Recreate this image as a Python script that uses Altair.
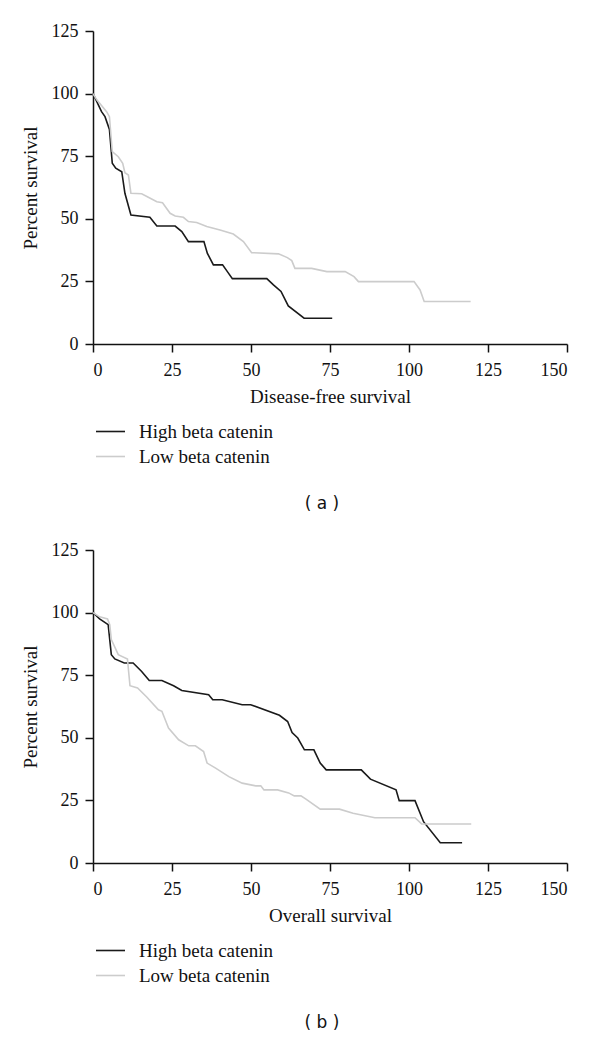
import altair as alt
import pandas as pd

GROUPS = ["High beta catenin", "Low beta catenin"]
X_TICKS = [0, 25, 50, 75, 100, 125, 150]
Y_TICKS = [0, 25, 50, 75, 100, 125]

# Panel (a): disease-free survival
a_high_t = [0, 2.7, 3.8, 5.2, 6.1, 7.2, 9.1, 10.1, 12.0, 18.0, 20.2, 26.0, 28.1, 30.2, 35.1,
            36.2, 38.1, 41.0, 42.3, 44.1, 55.0, 57.1, 59.5, 61.8, 66.8, 75.7]
a_high_s = [100, 92.8, 90.8, 85.7, 72.2, 70.2, 68.8, 60.2, 51.5, 50.6, 47.1, 47.1, 44.9, 40.9, 40.9,
            36.2, 31.6, 31.6, 29.3, 26.1, 26.1, 23.6, 21.0, 15.2, 10.3, 10.3]
a_low_t = [0, 1.2, 4.3, 5.2, 6.1, 8.0, 9.4, 10.1, 11.2, 12.0, 15.4, 17.5, 20.2, 22.0, 24.4, 26.0,
           28.6, 30.2, 32.8, 36.0, 40.2, 44.4, 47.6, 50.2, 58.7, 61.5, 62.9, 63.9, 69.2, 74.0, 79.8,
           82.6, 84.0, 101.6, 103.5, 104.8, 119.5]
a_low_s = [100, 97.5, 92.8, 90.8, 76.8, 74.8, 72.2, 68.4, 67.5, 60.2, 60.0, 58.6, 56.8, 56.4, 52.2,
           51.1, 50.6, 48.9, 48.5, 46.9, 45.5, 43.9, 40.9, 36.5, 36.0, 34.5, 33.3, 30.2, 30.2, 28.9,
           28.9, 26.9, 24.9, 24.9, 21.6, 17.0, 17.0]

# Panel (b): overall survival
b_high_t = [0, 2.1, 4.8, 5.8, 6.9, 9.9, 12.7, 15.4, 17.8, 21.8, 25.5, 28.1, 36.6, 37.9, 40.9, 47.2,
            49.9, 59.0, 61.6, 63.0, 64.8, 66.9, 69.9, 71.9, 73.8, 84.9, 87.8, 95.9, 96.9, 101.9,
            104.6, 109.9, 116.8]
b_high_s = [100, 97.5, 95.2, 83.2, 81.5, 79.9, 79.9, 76.5, 72.9, 72.9, 70.8, 68.9, 67.2, 65.2, 65.2,
            63.2, 63.2, 59.0, 56.5, 52.1, 49.9, 45.2, 45.2, 39.9, 37.2, 37.2, 33.5, 29.2, 24.9, 24.9,
            16.5, 8.1, 8.1]
b_low_t = [0, 2.1, 4.6, 5.3, 5.8, 8.0, 10.9, 11.7, 14.1, 17.0, 20.7, 21.8, 23.9, 27.1, 30.3, 32.4,
           35.0, 36.1, 38.8, 43.0, 47.2, 51.5, 53.1, 54.1, 58.4, 61.9, 63.7, 65.8, 67.4, 71.9, 78.0,
           82.3, 89.2, 101.9, 104.0, 119.7]
b_low_s = [100, 98.3, 97.5, 95.2, 89.2, 83.2, 81.5, 70.8, 69.9, 66.3, 61.2, 60.6, 53.9, 49.2, 46.8,
           46.8, 44.5, 39.9, 37.9, 34.5, 31.9, 30.8, 30.8, 29.2, 29.2, 28.0, 26.8, 26.8, 25.5, 21.5,
           21.5, 19.9, 18.1, 18.1, 15.6, 15.6]


def make_df(ht, hs, lt, ls):
    rows = []
    for i, (t, s) in enumerate(zip(ht, hs)):
        rows.append({"t": t, "s": s, "g": GROUPS[0], "i": i})
    for i, (t, s) in enumerate(zip(lt, ls)):
        rows.append({"t": t, "s": s, "g": GROUPS[1], "i": i})
    return pd.DataFrame(rows)


SERIF = "Liberation Serif"


def panel(df, xtitle, cap):
    return alt.Chart(df).mark_line(strokeWidth=1.6).encode(
        x=alt.X("t:Q", scale=alt.Scale(domain=[0, 150], nice=False),
                axis=alt.Axis(values=X_TICKS, title=xtitle, titlePadding=8, labelPadding=9)),
        y=alt.Y("s:Q", scale=alt.Scale(domain=[0, 125], nice=False),
                axis=alt.Axis(values=Y_TICKS, title="Percent survival", titlePadding=11,
                              labelPadding=7)),
        color=alt.Color("g:N",
                        scale=alt.Scale(domain=GROUPS, range=["#1a1a1a", "#cccccc"]),
                        legend=alt.Legend(title=None, orient="none", legendX=2, legendY=388,
                                          symbolType="stroke", symbolSize=841,
                                          symbolStrokeWidth=1.6, clipHeight=25,
                                          labelOffset=13, padding=0, rowPadding=0,
                                          labelFont=SERIF, labelFontSize=19,
                                          labelColor="#111")),
        order="i:Q",
    ).properties(
        width=474, height=313,
        title=alt.TitleParams(cap, orient="bottom", anchor="middle", offset=27, dx=-8,
                              font="DejaVu Sans", fontSize=17, fontWeight="normal",
                              color="#111"),
    )


pa = panel(make_df(a_high_t, a_high_s, a_low_t, a_low_s), "Disease-free survival", "( a )")
pb = panel(make_df(b_high_t, b_high_s, b_low_t, b_low_s), "Overall survival", "( b )")

chart = alt.vconcat(pa, pb, spacing=206, bounds="flush").resolve_scale(
    color="independent").resolve_legend(color="independent").properties(
    padding={"left": 13, "top": 14, "right": 5, "bottom": 5}
).configure_view(stroke=None).configure_axis(
    grid=False, domainColor="#111", domainWidth=1.5, tickColor="#111", tickWidth=1.5,
    tickSize=8, labelFont=SERIF, labelFontSize=18, labelColor="#111",
    titleFont=SERIF, titleFontSize=19, titleFontWeight="normal", titleColor="#111",
)

chart.save("out.html", embed_options={"renderer": "svg", "actions": False})
